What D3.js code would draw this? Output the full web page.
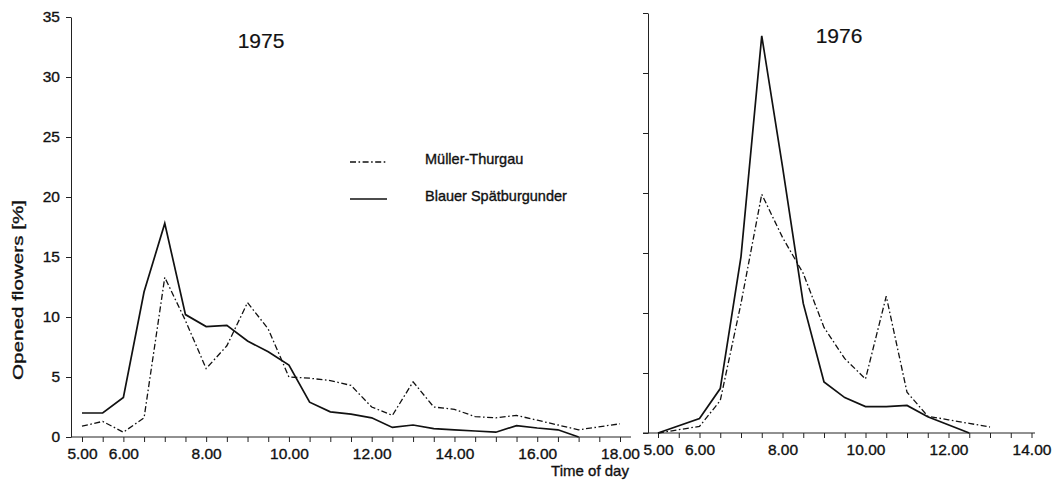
<!DOCTYPE html>
<html>
<head>
<meta charset="utf-8">
<script src="https://cdn.jsdelivr.net/npm/d3@7/dist/d3.min.js"></script>
<style>
  html, body { margin: 0; padding: 0; background: #fff; }
  svg { display: block; }
  text { font-family: "Liberation Sans", Arial, Helvetica, sans-serif; fill: #111; }
  .heavy { stroke: #111; stroke-width: 0.35px; }
</style>
</head>
<body>
<svg id="chart" width="1052" height="483"></svg>
<script>
// ---- Data ----
const yTicks = [0, 5, 10, 15, 20, 25, 30, 35];
const xLabels1975 = [5, 6, 8, 10, 12, 14, 16, 18];
const xLabels1976 = [5, 6, 8, 10, 12, 14];
const seriesNames = ["Müller-Thurgau", "Blauer Spätburgunder"];

// 1975
const mtTimes1975 = [5, 5.5, 6, 6.5, 7, 7.5, 8, 8.5, 9, 9.5, 10, 10.5, 11, 11.5, 12, 12.5, 13, 13.5, 14, 14.5, 15, 15.5, 16, 16.5, 17, 18];
const mtValues1975 = [0.9, 1.3, 0.4, 1.6, 13.3, 9.7, 5.7, 7.6, 11.2, 9.0, 5.0, 4.9, 4.7, 4.3, 2.5, 1.8, 4.6, 2.5, 2.3, 1.7, 1.6, 1.8, 1.4, 1.0, 0.6, 1.1];
const bsTimes1975 = [5, 5.5, 6, 6.5, 7, 7.5, 8, 8.5, 9, 9.5, 10, 10.5, 11, 11.5, 12, 12.5, 13, 13.5, 14, 14.5, 15, 15.5, 16, 16.5, 17];
const bsValues1975 = [2.0, 2.0, 3.3, 12.1, 17.8, 10.2, 9.2, 9.3, 8.0, 7.1, 6.0, 2.9, 2.1, 1.9, 1.6, 0.8, 1.0, 0.7, 0.6, 0.5, 0.4, 0.95, 0.75, 0.6, 0.0];

// 1976
const mtTimes1976 = [5, 6, 6.5, 7, 7.5, 8, 8.5, 9, 9.5, 10, 10.5, 11, 11.5, 12, 12.5, 13];
const mtValues1976 = [0, 0.55, 2.7, 10.8, 19.9, 16.3, 13.3, 8.8, 6.2, 4.5, 11.4, 3.4, 1.4, 1.1, 0.8, 0.5];
const bsTimes1976 = [5, 6, 6.5, 7, 7.5, 8, 8.5, 9, 9.5, 10, 10.5, 11, 11.5, 12.5];
const bsValues1976 = [0, 1.2, 3.7, 14.7, 33.1, 22.2, 10.8, 4.25, 2.95, 2.2, 2.2, 2.3, 1.35, 0];

// ---- Drawing ----
const svg = d3.select("#chart");
const DASH = "6,2.5,1.6,2.5";
const fmt = d => d.toFixed(2);

function halfHours(a, b) { const r = []; for (let t = a; t <= b + 1e-9; t += 0.5) r.push(t); return r; }

function panel(cfg) {
  const x = d3.scaleLinear().domain(cfg.xDomain).range(cfg.xRange);
  const y = d3.scaleLinear().domain([0, 35]).range(cfg.yRange);
  const g = svg.append("g");

  // y axis
  const ya = d3.axisLeft(y).tickValues(yTicks).tickSize(5).tickSizeOuter(0).tickPadding(6)
    .tickFormat(cfg.yLabels ? d3.format("d") : "");
  const yg = g.append("g").attr("transform", `translate(${cfg.yAxisX},0)`).call(ya);
  yg.select(".domain").attr("stroke", "#222");
  yg.selectAll(".tick line").attr("stroke", "#222");
  yg.selectAll("text").attr("class", "heavy").style("font-size", "15.5px").attr("fill", "#111");

  // x axis
  const xa = d3.axisBottom(x).tickValues(halfHours(cfg.xDomain[0], cfg.xDomain[1])).tickSize(5).tickPadding(6)
    .tickFormat(d => cfg.xLabels.includes(d) ? fmt(d) : "");
  const xg = g.append("g").attr("transform", `translate(0,${y(0)})`).call(xa);
  xg.select(".domain").remove();
  xg.selectAll(".tick line").attr("stroke", "#222");
  xg.selectAll("text").attr("class", "heavy").style("font-size", "15.5px").attr("fill", "#111");
  g.append("line").attr("x1", cfg.xLineExtent[0]).attr("x2", cfg.xLineExtent[1])
    .attr("y1", y(0)).attr("y2", y(0)).attr("stroke", "#222").attr("stroke-width", 1);

  const line = d3.line().x(d => x(d[0])).y(d => y(d[1]));
  g.append("path").datum(d3.zip(cfg.mtT, cfg.mtV)).attr("d", line)
    .attr("fill", "none").attr("stroke", "#111").attr("stroke-width", 1.3).attr("stroke-dasharray", DASH);
  g.append("path").datum(d3.zip(cfg.bsT, cfg.bsV)).attr("d", line)
    .attr("fill", "none").attr("stroke", "#111").attr("stroke-width", 1.7);

  g.append("text").attr("x", cfg.titleX).attr("y", cfg.titleY).attr("text-anchor", "middle")
    .style("font-size", "21px").style("stroke", "#111").style("stroke-width", "0.2px").text(cfg.title);
}

panel({
  xDomain: [5, 18], xRange: [82, 620], yRange: [437, 17], yAxisX: 71, yLabels: true,
  xLabels: xLabels1975, xLineExtent: [71, 631],
  mtT: mtTimes1975, mtV: mtValues1975, bsT: bsTimes1975, bsV: bsValues1975,
  title: "1975", titleX: 261, titleY: 48
});
panel({
  xDomain: [5, 14], xRange: [658, 1031.5], yRange: [433, 13], yAxisX: 648, yLabels: false,
  xLabels: xLabels1976, xLineExtent: [643, 1035],
  mtT: mtTimes1976, mtV: mtValues1976, bsT: bsTimes1976, bsV: bsValues1976,
  title: "1976", titleX: 839, titleY: 43
});

// Legend
const legend = svg.append("g");
[[162, DASH, 1.3], [199, null, 1.7]].forEach((s, i) => {
  legend.append("line").attr("x1", 350).attr("x2", 387).attr("y1", s[0]).attr("y2", s[0])
    .attr("stroke", "#111").attr("stroke-width", s[2]).attr("stroke-dasharray", s[1]);
  legend.append("text").attr("class", "heavy").attr("x", 425).attr("y", s[0] + 2)
    .style("font-size", "14.5px").text(seriesNames[i]);
});

// Axis titles
svg.append("text").attr("class", "heavy").attr("x", 590).attr("y", 476).attr("text-anchor", "middle")
  .style("font-size", "15px").text("Time of day");
svg.append("text").attr("class", "heavy").attr("transform", "translate(23,290) rotate(-90)").attr("text-anchor", "middle")
  .attr("textLength", 180).attr("lengthAdjust", "spacingAndGlyphs")
  .style("font-size", "15px").text("Opened flowers [%]");
</script>
</body>
</html>
